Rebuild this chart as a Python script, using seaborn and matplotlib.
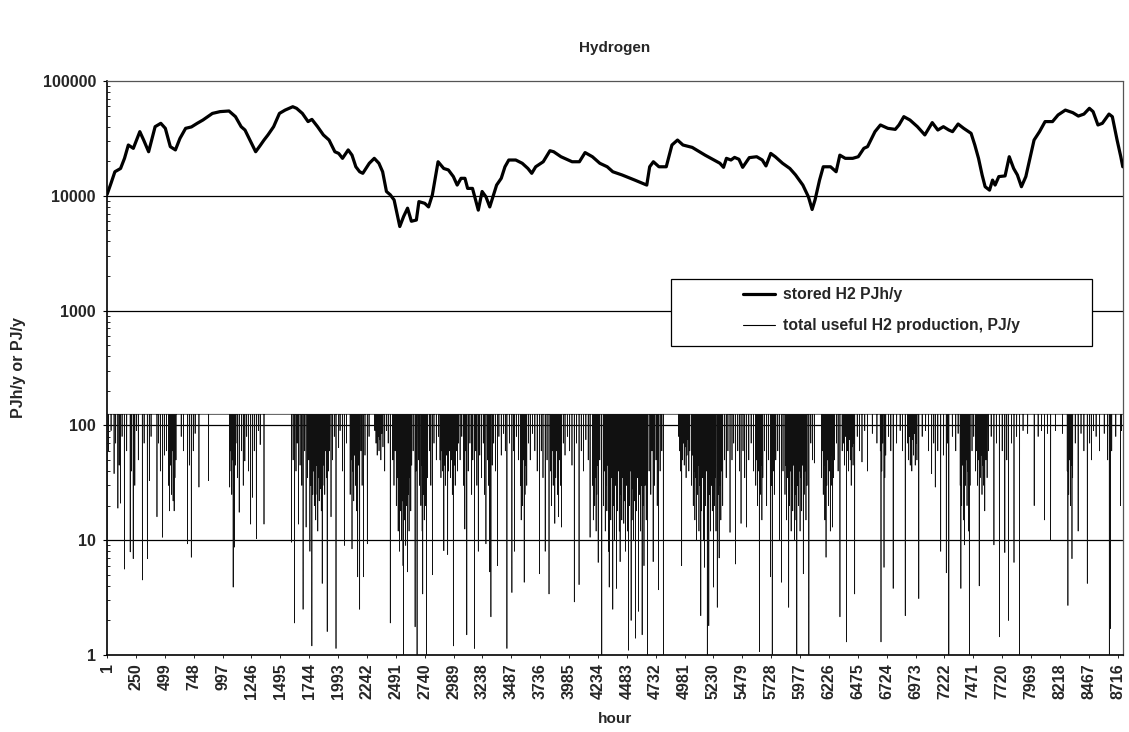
import numpy as np
import pandas as pd
import matplotlib
matplotlib.use("Agg")
import matplotlib.pyplot as plt
from matplotlib.patches import Rectangle
from matplotlib.ticker import FixedLocator, LogLocator, NullFormatter
import seaborn as sns

# ---------------- data ----------------
n_hours = 8760
x_tick_labels = list(range(1, 8761, 249))
y_ticks = [1, 10, 100, 1000, 10000, 100000]

stored_hours = [1, 35, 68, 117, 151, 184, 227, 283, 316, 359, 415, 464, 503, 546, 590, 629, 678, 728,
                778, 827, 909, 975, 1052, 1108, 1157, 1190, 1240, 1282, 1322, 1354, 1388, 1437, 1487,
                1536, 1602, 1635, 1685, 1734, 1767, 1816, 1866, 1915, 1965, 1998, 2031, 2080, 2113,
                2146, 2179, 2206, 2262, 2305, 2345, 2377, 2410, 2443, 2476, 2525, 2558, 2592, 2625,
                2668, 2690, 2740, 2773, 2806, 2855, 2904, 2944, 2987, 3020, 3053, 3087, 3110, 3152,
                3202, 3235, 3268, 3301, 3334, 3360, 3400, 3432, 3465, 3525, 3581, 3630, 3663, 3697,
                3762, 3820, 3852, 3915, 4011, 4074, 4123, 4186, 4250, 4314, 4362, 4441, 4552, 4655,
                4680, 4712, 4760, 4823, 4872, 4920, 4967, 5047, 5158, 5286, 5317, 5342, 5381, 5412,
                5450, 5482, 5539, 5603, 5651, 5683, 5724, 5763, 5826, 5889, 5938, 6001, 6049, 6081,
                6106, 6145, 6177, 6240, 6288, 6320, 6367, 6431, 6479, 6527, 6559, 6623, 6670, 6734,
                6798, 6830, 6872, 6925, 6989, 7053, 7117, 7165, 7213, 7260, 7292, 7340, 7388, 7452,
                7484, 7516, 7547, 7573, 7611, 7637, 7659, 7691, 7745, 7781, 7819, 7851, 7886, 7924,
                7956, 7995, 8042, 8090, 8154, 8202, 8265, 8329, 8377, 8425, 8472, 8504, 8546, 8584,
                8641, 8670, 8711, 8743, 8760]
stored_values = [10300, 12900, 16200, 17300, 21200, 27700, 25900, 36200, 30600, 24200, 40000, 42800,
                 38700, 26800, 25100, 31600, 38700, 39800, 42800, 45700, 52200, 54100, 54800, 48900,
                 40000, 37400, 29500, 24200, 27500, 30600, 33900, 40000, 52200, 55800, 59700, 57800,
                 52200, 44300, 46300, 40000, 33900, 30600, 24200, 23400, 21200, 25100, 22600, 17900,
                 16200, 15700, 19200, 21200, 19200, 16200, 10900, 10200, 9200, 5400, 6600, 7800,
                 6000, 6150, 8900, 8600, 8000, 10200, 19800, 17300, 16800, 14700, 12400, 14200,
                 14200, 11600, 11600, 7500, 10900, 9800, 8000, 10200, 12400, 14200, 17900, 20500,
                 20500, 19200, 17300, 15700, 17900, 19800, 24700, 24200, 21900, 19800, 19800, 23800,
                 21900, 19200, 17900, 16200, 15200, 13700, 12400, 17900, 19800, 17900, 17900, 27700,
                 30600, 27700, 26400, 22600, 19200, 17700, 21200, 20500, 21600, 20800, 17700, 21500,
                 21900, 20500, 18200, 23400, 21900, 19200, 17300, 15200, 12400, 9800, 7600, 9200,
                 13700, 17900, 17900, 16200, 22600, 21200, 21200, 21900, 25900, 26800, 36200, 41400,
                 38700, 37900, 41400, 48900, 45700, 40000, 33900, 43400, 37400, 40000, 37400, 36200,
                 42200, 38700, 35000, 27700, 21200, 15200, 12000, 11200, 13700, 12400, 14700, 14900,
                 21900, 17300, 15200, 12000, 14700, 20500, 30600, 36200, 44300, 44300, 50600, 55800,
                 53000, 49500, 51500, 57800, 54100, 41400, 42800, 51500, 48900, 30600, 21900, 17900]

# production: full-load level and the hours where it drops (hour, value)
prod_cap = 125
prod_dips = [
    (1, 2.0), (12, 60), (35, 90), (61, 38), (75, 70), (94, 19), (105, 45), (117, 21), (130, 80),
    (150, 5.6), (170, 60), (200, 7.9), (212, 40), (226, 6.9), (240, 30), (255, 90), (270, 50),
    (305, 4.5), (320, 70), (348, 6.9), (365, 33), (380, 80), (431, 16), (445, 70), (460, 40),
    (480, 10.6), (495, 55), (513, 60), (530, 30), (540, 18), (548, 45), (555, 25), (562, 60),
    (570, 22), (579, 18), (586, 35), (595, 50), (640, 80), (660, 60), (694, 9.3), (710, 45),
    (727, 7.1), (744, 60), (760, 85), (793, 29), (876, 33),
    (1058, 29), (1064, 60), (1070, 40), (1076, 25), (1082, 50), (1088, 3.9), (1094, 30),
    (1100, 8.7), (1106, 45), (1112, 70), (1125, 35), (1140, 17.5), (1160, 60), (1175, 30),
    (1189, 49), (1205, 80), (1220, 40), (1239, 13.8), (1255, 23.6), (1270, 60), (1288, 10.3),
    (1305, 90), (1321, 68), (1354, 13.8),
    (1592, 9.6), (1605, 50), (1618, 1.9), (1630, 40), (1640, 70), (1651, 13.8), (1665, 45),
    (1680, 30), (1691, 2.5), (1705, 60), (1717, 13), (1730, 35), (1740, 50), (1750, 8),
    (1758, 30), (1767, 1.2), (1775, 25), (1782, 40), (1788, 20), (1794, 30), (1800, 15),
    (1806, 45), (1812, 25), (1818, 12), (1824, 35), (1830, 22), (1836, 50), (1842, 28),
    (1848, 18), (1856, 4.2), (1862, 30), (1870, 45), (1878, 25), (1886, 60), (1892, 35),
    (1899, 1.6), (1910, 40), (1920, 60), (1932, 16), (1945, 50), (1960, 80), (1975, 1.14),
    (1998, 64), (2010, 90), (2030, 40), (2047, 9), (2065, 70),
    (2097, 25), (2104, 50), (2113, 8.4), (2120, 40), (2128, 22), (2136, 55), (2144, 30),
    (2152, 18), (2162, 4.8), (2170, 45), (2179, 2.5), (2190, 60), (2200, 30), (2212, 4.8),
    (2225, 55), (2245, 9.3), (2260, 80),
    (2310, 90), (2320, 70), (2330, 55), (2338, 80), (2346, 60), (2354, 75), (2362, 50),
    (2370, 85), (2380, 65), (2395, 40), (2410, 90), (2425, 70), (2443, 1.9),
    (2465, 50), (2475, 30), (2485, 60), (2495, 20), (2505, 35), (2511, 12), (2517, 28),
    (2523, 8), (2529, 18), (2535, 40), (2541, 10), (2547, 22), (2553, 6), (2558, 1.0),
    (2564, 15), (2570, 30), (2576, 9), (2582, 20), (2591, 5.3), (2598, 25), (2605, 12),
    (2612, 35), (2620, 18), (2628, 45), (2640, 60), (2657, 1.76), (2665, 40), (2674, 1.0),
    (2685, 50), (2695, 30),
    (2707, 20), (2713, 45), (2718, 12), (2723, 3.4), (2730, 25), (2736, 15), (2742, 40),
    (2748, 20), (2756, 1.0), (2765, 35), (2780, 60), (2793, 30), (2806, 5), (2820, 70),
    (2840, 50), (2860, 80),
    (2872, 50), (2880, 35), (2888, 60), (2896, 40), (2905, 8.1), (2912, 45), (2920, 30),
    (2928, 55), (2938, 7.5), (2946, 40), (2954, 60), (2962, 35), (2970, 50), (2978, 25),
    (2987, 1.2), (2995, 45), (3003, 30), (3012, 60), (3022, 40), (3032, 70), (3045, 50),
    (3060, 80), (3075, 30), (3086, 12.5), (3095, 60), (3103, 1.5), (3115, 40), (3130, 70),
    (3145, 25), (3155, 50), (3169, 1.14), (3180, 60), (3190, 30), (3202, 8), (3215, 55),
    (3230, 35), (3245, 70), (3255, 25), (3268, 9.3), (3280, 50), (3290, 30), (3301, 5.3),
    (3311, 2.15), (3322, 45), (3335, 70), (3350, 40), (3367, 6), (3380, 80), (3400, 55),
    (3420, 85), (3435, 60), (3449, 1.14), (3470, 70), (3492, 3.5), (3505, 60), (3515, 8),
    (3530, 80), (3550, 50),
    (3565, 30), (3572, 15), (3578, 40), (3584, 20), (3590, 50), (3598, 4.3), (3605, 25),
    (3612, 45), (3620, 30), (3635, 70), (3650, 50), (3670, 85), (3690, 60), (3710, 40),
    (3730, 5.1), (3745, 60), (3760, 35), (3779, 8), (3795, 50), (3812, 3.4),
    (3825, 40), (3832, 20), (3840, 60), (3848, 30), (3855, 45), (3862, 14), (3870, 35),
    (3878, 60), (3886, 25), (3895, 16), (3905, 50), (3912, 30), (3920, 13), (3935, 70),
    (3950, 55), (3970, 80), (3990, 60), (4010, 45), (4030, 2.9), (4050, 70), (4071, 4.1),
    (4090, 60), (4110, 40), (4130, 75), (4150, 50), (4166, 10.6),
    (4188, 30), (4194, 15), (4200, 40), (4206, 20), (4212, 35), (4218, 12), (4224, 25),
    (4230, 45), (4236, 6.4), (4250, 50), (4267, 1.0),
    (4283, 20), (4290, 40), (4297, 12), (4304, 30), (4311, 18), (4318, 45), (4325, 8),
    (4331, 3.9), (4338, 25), (4345, 15), (4352, 35), (4362, 2.5), (4370, 20), (4378, 10),
    (4386, 30), (4394, 3.8), (4402, 18), (4410, 40), (4418, 12), (4425, 6.5), (4432, 25),
    (4440, 15), (4448, 35), (4457, 14), (4465, 22), (4472, 8), (4480, 30), (4488, 12),
    (4498, 1.1), (4505, 20), (4512, 40), (4520, 2.0), (4528, 15), (4535, 28), (4542, 10),
    (4550, 22), (4558, 1.4), (4566, 18), (4574, 35), (4583, 2.4), (4592, 25), (4600, 12),
    (4608, 30), (4615, 1.5), (4622, 20), (4631, 6), (4640, 30), (4650, 15), (4662, 1.0),
    (4675, 40), (4690, 25), (4700, 60), (4710, 6.5), (4722, 30), (4735, 50), (4745, 20),
    (4757, 3.7), (4770, 40), (4785, 60), (4798, 1.0),
    (4931, 80), (4938, 60), (4945, 40), (4956, 6), (4962, 50), (4970, 70), (4978, 45),
    (4986, 65), (4994, 35), (5002, 55), (5010, 75), (5018, 40), (5026, 60),
    (5042, 30), (5049, 55), (5056, 20), (5063, 40), (5070, 15), (5077, 35), (5084, 10),
    (5091, 25), (5098, 45), (5105, 12), (5112, 30), (5121, 2.2), (5128, 18), (5135, 35),
    (5143, 10), (5152, 5.8), (5160, 20), (5168, 40), (5177, 1.0), (5184, 15), (5190, 1.8),
    (5197, 25), (5204, 12), (5212, 30), (5220, 18), (5231, 3.9), (5238, 20), (5245, 35),
    (5252, 12), (5263, 2.6), (5270, 25), (5279, 7), (5286, 30), (5294, 15), (5302, 40),
    (5310, 20), (5325, 50), (5340, 35), (5355, 60), (5373, 11.7), (5390, 50), (5405, 70),
    (5421, 6.2), (5440, 60), (5455, 40), (5468, 14), (5485, 60), (5500, 35), (5516, 13),
    (5535, 50), (5555, 70), (5575, 40),
    (5595, 30), (5602, 50), (5609, 20), (5616, 40), (5626, 1.07), (5633, 25), (5640, 45),
    (5648, 15), (5656, 35), (5670, 60), (5689, 20), (5705, 50), (5721, 4.8), (5730, 30),
    (5737, 1.0), (5745, 40), (5755, 25), (5768, 50), (5785, 60), (5800, 10), (5816, 4.3),
    (5830, 40),
    (5847, 25), (5854, 45), (5861, 15), (5868, 35), (5879, 2.6), (5886, 20), (5893, 40),
    (5900, 12), (5907, 30), (5914, 18), (5921, 45), (5928, 10), (5935, 25), (5942, 15),
    (5949, 1.0), (5956, 30), (5963, 20), (5970, 40), (5977, 12), (5984, 35), (5991, 18),
    (5998, 45), (6005, 5.1), (6012, 25), (6020, 40), (6028, 15), (6037, 30), (6053, 1.0),
    (6070, 70), (6085, 50), (6100, 47),
    (6163, 35), (6170, 60), (6177, 25), (6184, 45), (6191, 15), (6201, 7.1), (6208, 30),
    (6215, 50), (6222, 20), (6230, 40), (6238, 12), (6245, 30), (6252, 55), (6258, 13),
    (6266, 35), (6274, 50), (6290, 70), (6305, 40), (6321, 2.15), (6340, 60),
    (6353, 70), (6360, 45), (6367, 80), (6378, 1.3), (6386, 60), (6394, 40), (6402, 75),
    (6410, 50), (6418, 30), (6426, 65), (6434, 45), (6441, 70), (6448, 3.4), (6470, 80),
    (6490, 60), (6511, 48), (6535, 90), (6558, 40), (6600, 85), (6640, 70),
    (6669, 60), (6675, 1.3), (6682, 40), (6690, 70), (6701, 5.8), (6708, 35), (6716, 55),
    (6740, 80), (6760, 60), (6780, 3.8), (6810, 70), (6840, 90), (6860, 60), (6884, 2.2),
    (6906, 70), (6913, 50), (6920, 80), (6927, 45), (6934, 65), (6941, 40), (6948, 75),
    (6955, 55), (6962, 85), (6970, 45), (6978, 70), (6985, 50), (7001, 3.1), (7030, 80),
    (7060, 90), (7085, 60), (7112, 38), (7130, 70), (7143, 29), (7165, 60), (7190, 8),
    (7215, 55), (7238, 5.2), (7250, 70), (7260, 1.0), (7290, 80), (7320, 60), (7340, 85),
    (7358, 30), (7364, 3.8), (7371, 20), (7378, 45), (7385, 15), (7396, 9.1), (7403, 30),
    (7410, 50), (7417, 20), (7424, 40), (7430, 12), (7437, 1.0), (7443, 30), (7460, 60),
    (7475, 80),
    (7490, 40), (7498, 60), (7506, 30), (7514, 50), (7522, 4), (7530, 35), (7538, 55),
    (7546, 25), (7554, 45), (7562, 30), (7570, 18), (7580, 50), (7590, 35), (7601, 60),
    (7625, 80), (7649, 9.1), (7670, 70), (7696, 1.44), (7720, 60), (7743, 7.8), (7760, 50),
    (7775, 2.0), (7800, 70), (7822, 6.4), (7845, 80), (7870, 1.0),
    (7900, 90), (7940, 85), (7996, 20), (8030, 80), (8060, 90), (8085, 15), (8110, 85),
    (8138, 10), (8180, 90), (8240, 85), (8281, 40), (8287, 2.7), (8294, 25), (8301, 50),
    (8308, 20), (8315, 45), (8322, 6.9), (8328, 35), (8350, 70), (8375, 12), (8400, 85),
    (8425, 60), (8454, 4.2), (8475, 70), (8490, 50), (8508, 90), (8530, 80), (8560, 60),
    (8600, 85), (8630, 50), (8644, 1.0), (8653, 1.7), (8665, 60), (8700, 80), (8740, 20),
    (8750, 90),
]

series_labels = ["stored H2 PJh/y", "total useful H2 production, PJ/y"]

# ---------------- build tables ----------------
hours = np.arange(1, n_hours + 1)
prod = np.full(n_hours, float(prod_cap))
for h, v in prod_dips:
    prod[h - 1] = v
prod_df = pd.DataFrame({"hour": hours, "value": prod})
stored_df = pd.DataFrame({"hour": stored_hours, "value": stored_values})

# ---------------- plot ----------------
sns.set_theme(style="white")
plt.rcParams["font.family"] = ["Liberation Sans", "DejaVu Sans"]

W, H = 1129, 732
fig = plt.figure(figsize=(W / 100, H / 100), dpi=100)
ax = fig.add_axes([107 / W, 1 - 655 / H, (1123 - 107) / W, (655 - 81) / H])

sns.lineplot(data=prod_df, x="hour", y="value", ax=ax, color="#111111", linewidth=0.5,
             estimator=None, zorder=3)
sns.lineplot(data=stored_df, x="hour", y="value", ax=ax, color="black", linewidth=2.3,
             estimator=None, zorder=4)

ax.set_yscale("log")
ax.set_ylim(1, 100000)
ax.set_xlim(0, n_hours + 2)

ax.yaxis.set_major_locator(FixedLocator(y_ticks))
ax.set_yticklabels([str(t) for t in y_ticks])
ax.yaxis.set_minor_locator(LogLocator(base=10, subs=np.arange(2, 10)))
ax.yaxis.set_minor_formatter(NullFormatter())
ax.set_xticks(x_tick_labels)
ax.set_xticklabels([str(t) for t in x_tick_labels], rotation=90)

ax.tick_params(axis="y", which="major", direction="out", length=3, width=0.8, color="black",
               labelsize=11.5, pad=5, left=True)
ax.tick_params(axis="y", which="minor", direction="in", length=2, width=0.6, color="black", left=True)
ax.tick_params(axis="x", which="major", direction="out", length=2, width=0.6, color="black",
               labelsize=11.5, pad=4, bottom=True)
for lbl in ax.get_xticklabels() + ax.get_yticklabels():
    lbl.set_fontweight("bold")

ax.grid(False)
for yv in y_ticks[1:-1]:
    ax.axhline(yv, color="black", linewidth=0.9, zorder=1)

for s in ["left", "bottom"]:
    ax.spines[s].set_color("black")
    ax.spines[s].set_linewidth(1.2)
for s in ["top", "right"]:
    ax.spines[s].set_color("#555555")
    ax.spines[s].set_linewidth(0.9)
    ax.spines[s].set_linestyle((0, (1.5, 1)))

ax.set_xlabel("hour", fontsize=11, fontweight="bold", labelpad=9)
ax.set_ylabel("PJh/y or PJ/y", fontsize=11.5, fontweight="bold", labelpad=12)
ax.set_title("Hydrogen", fontsize=11, fontweight="bold", pad=21)

# legend box
x0 = (671 - 107) / 1016
x1 = (1092 - 107) / 1016
y0 = (655 - 346) / 574
y1 = (655 - 279) / 574
ax.add_patch(Rectangle((x0, y0), x1 - x0, y1 - y0, transform=ax.transAxes, facecolor="white",
                       edgecolor="black", linewidth=0.9, zorder=5))
handles = [plt.Line2D([], [], color="black", linewidth=2.3),
           plt.Line2D([], [], color="black", linewidth=0.8)]
leg = ax.legend(handles, series_labels, loc="upper left",
                bbox_to_anchor=((743 - 107) / 1016, (655 - 287) / 574),
                frameon=False, fontsize=11.3, handlelength=2.05, handletextpad=0.5,
                labelspacing=1.05, borderpad=0, borderaxespad=0)
leg.set_zorder(6)
for t in leg.get_texts():
    t.set_fontweight("bold")

fig.savefig("out.png", dpi=100, facecolor="white")
